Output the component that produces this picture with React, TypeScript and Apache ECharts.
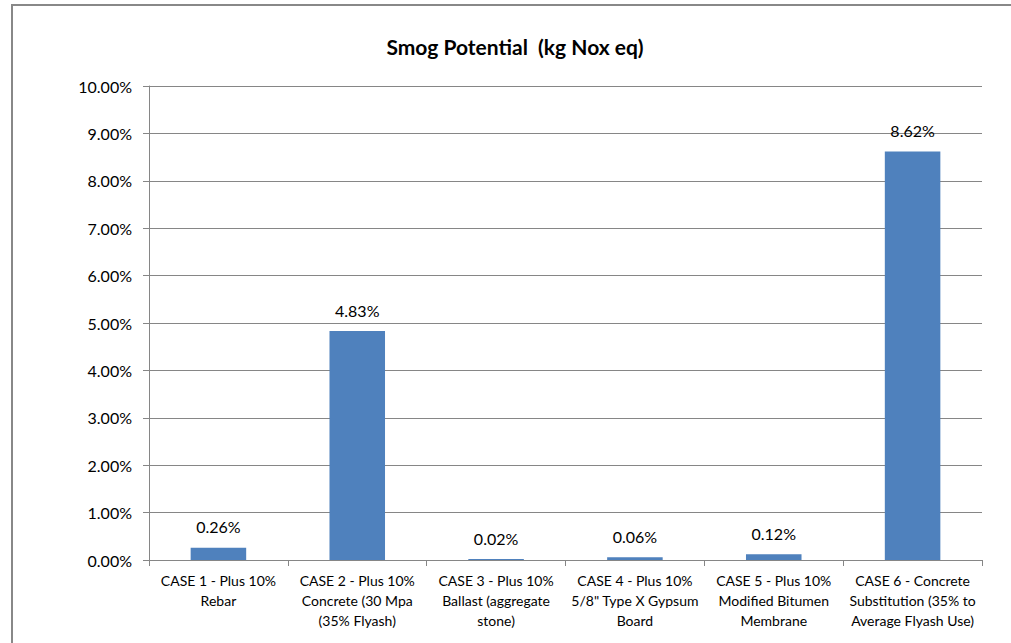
import React, { useEffect, useRef } from "react";
import * as echarts from "echarts";

// Smog potential change per case, in percent
const categories: string[] = [
  "CASE 1 - Plus 10%\nRebar",
  "CASE 2 - Plus 10%\nConcrete (30 Mpa\n(35% Flyash)",
  "CASE 3 - Plus 10%\nBallast (aggregate\nstone)",
  "CASE 4 - Plus 10%\n5/8\" Type X Gypsum\nBoard",
  "CASE 5 - Plus 10%\nModified Bitumen\nMembrane",
  "CASE 6 - Concrete\nSubstitution (35% to\nAverage Flyash Use)",
];
const smogValues: number[] = [0.26, 4.83, 0.02, 0.06, 0.12, 8.62];
const yMin = 0;
const yMax = 10;
const yStep = 1;

const FONT = "Lato, 'Liberation Sans', sans-serif";
const AXIS_GRAY = "#868686";

export default function App() {
  const ref = useRef<HTMLDivElement>(null);

  useEffect(() => {
    if (!ref.current) return;
    const chart = echarts.init(ref.current, undefined, { renderer: "svg" });
    chart.setOption({
      animation: false,
      backgroundColor: "#ffffff",
      title: {
        text: "Smog Potential  (kg Nox eq)",
        left: 510,
        top: 31,
        textAlign: "center",
        textStyle: {
          fontFamily: FONT,
          fontWeight: "bold",
          fontSize: 21,
          color: "#000000",
        },
      },
      graphic: [
        {
          type: "rect",
          shape: { x: 12, y: 5, width: 1100, height: 800 },
          style: { fill: "none", stroke: "#888888", lineWidth: 2 },
          silent: true,
        },
      ],
      grid: { left: 149, right: 29, top: 86, bottom: 83, containLabel: false },
      xAxis: {
        type: "category",
        data: categories,
        axisLine: { show: true, lineStyle: { color: AXIS_GRAY, width: 1 } },
        axisTick: {
          show: true,
          alignWithLabel: false,
          length: 6,
          lineStyle: { color: AXIS_GRAY },
        },
        axisLabel: {
          interval: 0,
          margin: 10,
          fontFamily: FONT,
          fontSize: 14,
          lineHeight: 20,
          color: "#000000",
          align: "center",
        },
        splitLine: { show: false },
      },
      yAxis: {
        type: "value",
        min: yMin,
        max: yMax,
        interval: yStep,
        axisLine: { show: true, lineStyle: { color: AXIS_GRAY, width: 1 } },
        axisTick: { show: true, length: 6, lineStyle: { color: AXIS_GRAY } },
        axisLabel: {
          margin: 17,
          fontFamily: FONT,
          fontSize: 16,
          color: "#000000",
          formatter: (v: number) => v.toFixed(2) + "%",
        },
        splitLine: { show: true, lineStyle: { color: AXIS_GRAY, width: 1 } },
      },
      series: [
        {
          type: "bar",
          data: smogValues,
          barWidth: "40%",
          itemStyle: { color: "#4f81bd" },
          label: {
            show: true,
            position: "top",
            distance: 13,
            fontFamily: FONT,
            fontSize: 16,
            color: "#000000",
            formatter: (p: any) => (p.value as number).toFixed(2) + "%",
          },
        },
      ],
    });
    return () => chart.dispose();
  }, []);

  return (
    <div
      ref={ref}
      style={{ position: "fixed", left: 0, top: 0, width: 1011, height: 643 }}
    />
  );
}
